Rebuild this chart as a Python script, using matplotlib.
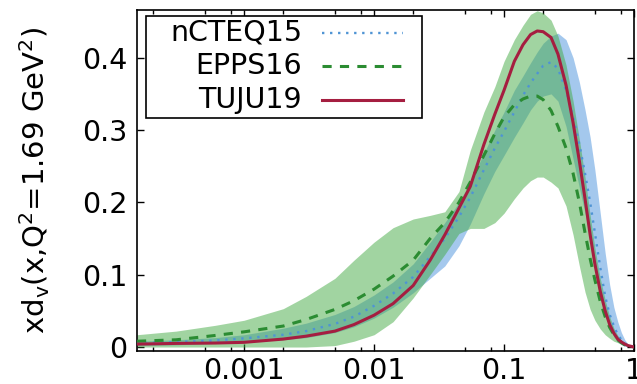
import numpy as np
import matplotlib
matplotlib.use("Agg")
import matplotlib.pyplot as plt
from matplotlib.ticker import FixedLocator, FixedFormatter, LogLocator, NullFormatter
from matplotlib.patches import Rectangle
from matplotlib.lines import Line2D

# ---------------- data ----------------
x = [1.5e-4, 3e-4, 6e-4, 1e-3, 2e-3, 3e-3, 5e-3, 7e-3, 0.01, 0.014, 0.02, 0.027,
     0.035, 0.045, 0.055, 0.07, 0.085, 0.1, 0.12, 0.14, 0.16, 0.18, 0.2, 0.23,
     0.26, 0.3, 0.34, 0.38, 0.42, 0.46, 0.5, 0.55, 0.6, 0.65, 0.7, 0.75, 0.8,
     0.85, 0.9, 1.0]

tuju19 = [0.004, 0.005, 0.0055, 0.0065, 0.011, 0.015, 0.022, 0.031, 0.044, 0.06,
          0.085, 0.12, 0.155, 0.192, 0.222, 0.28, 0.322, 0.355, 0.395, 0.418,
          0.432, 0.437, 0.436, 0.428, 0.405, 0.362, 0.31, 0.257, 0.205, 0.155,
          0.115, 0.077, 0.05, 0.031, 0.019, 0.011, 0.007, 0.004, 0.002, 0.0]

epps16 = [0.008, 0.010, 0.016, 0.021, 0.029, 0.038, 0.052, 0.064, 0.08, 0.098,
          0.12, 0.15, 0.172, 0.2, 0.228, 0.265, 0.295, 0.318, 0.335, 0.343,
          0.347, 0.347, 0.342, 0.327, 0.305, 0.275, 0.24, 0.2, 0.158, 0.122,
          0.093, 0.063, 0.042, 0.027, 0.017, 0.010, 0.006, 0.003, 0.001, 0.0]

ncteq15 = [0.005, 0.007, 0.009, 0.012, 0.017, 0.022, 0.032, 0.042, 0.057, 0.074,
           0.097, 0.125, 0.15, 0.18, 0.207, 0.245, 0.275, 0.298, 0.325, 0.348,
           0.365, 0.378, 0.389, 0.394, 0.385, 0.355, 0.318, 0.28, 0.24, 0.2,
           0.158, 0.11, 0.07, 0.045, 0.029, 0.017, 0.01, 0.005, 0.002, 0.0]

ncteq15_up = [0.008, 0.010, 0.013, 0.017, 0.026, 0.033, 0.045, 0.056, 0.072, 0.09,
              0.115, 0.145, 0.172, 0.2, 0.228, 0.268, 0.3, 0.325, 0.355, 0.375,
              0.393, 0.408, 0.42, 0.43, 0.434, 0.425, 0.4, 0.366, 0.328, 0.29,
              0.245, 0.185, 0.13, 0.086, 0.055, 0.035, 0.02, 0.01, 0.004, 0.0]
ncteq15_lo = [0.002, 0.003, 0.005, 0.007, 0.010, 0.013, 0.02, 0.028, 0.04, 0.055,
              0.075, 0.095, 0.112, 0.14, 0.17, 0.212, 0.243, 0.265, 0.29, 0.31,
              0.328, 0.34, 0.347, 0.35, 0.34, 0.305, 0.26, 0.22, 0.185, 0.15,
              0.11, 0.075, 0.045, 0.026, 0.014, 0.007, 0.003, 0.001, 0.0, 0.0]

epps16_up = [0.017, 0.022, 0.03, 0.037, 0.053, 0.07, 0.095, 0.12, 0.145, 0.165,
             0.177, 0.182, 0.187, 0.215, 0.272, 0.325, 0.36, 0.395, 0.425, 0.445,
             0.46, 0.465, 0.462, 0.452, 0.43, 0.39, 0.34, 0.287, 0.235, 0.182,
             0.137, 0.095, 0.065, 0.042, 0.026, 0.016, 0.009, 0.005, 0.002, 0.0]
epps16_lo = [0.0, 0.0, 0.0, 0.0, 0.0, 0.0, 0.002, 0.008, 0.017, 0.035,
             0.068, 0.1, 0.128, 0.157, 0.164, 0.164, 0.172, 0.185, 0.205, 0.22,
             0.23, 0.235, 0.235, 0.228, 0.22, 0.195, 0.155, 0.112, 0.076, 0.052,
             0.037, 0.025, 0.017, 0.012, 0.008, 0.006, 0.004, 0.002, 0.001, 0.0]

labels = ["nCTEQ15", "EPPS16", "TUJU19"]
xticks = [0.001, 0.01, 0.1, 1]
xticklabels = ["0.001", "0.01", "0.1", "1"]
yticks = [0, 0.1, 0.2, 0.3, 0.4]
yticklabels = ["0", "0.1", "0.2", "0.3", "0.4"]
ylabel = r"xd$_{\rm v}$(x,Q$^2$=1.69 GeV$^2$)"

# ---------------- styles ----------------
c_blue_band = "#4b92dd"
c_green_band = "#44aa44"
c_blue = "#4f94d4"
c_green = "#2b8c32"
c_red = "#a51e40"
FS = 20.5

plt.rcParams["font.family"] = ["DejaVu Sans"]
plt.rcParams["mathtext.fontset"] = "dejavusans"

fig = plt.figure(figsize=(6.37, 3.84), dpi=100)
ax = fig.add_axes([137 / 637, 1 - 351 / 384, 497 / 637, 341 / 384])

ax.fill_between(x, ncteq15_lo, ncteq15_up, color=c_blue_band, alpha=0.5, lw=0, zorder=1)
ax.fill_between(x, epps16_lo, epps16_up, color=c_green_band, alpha=0.5, lw=0, zorder=2)

ax.plot(x, ncteq15, color=c_blue, lw=1.7, ls=(0, (1, 2.4)), zorder=3)
ax.plot(x, epps16, color=c_green, lw=2.2, ls=(0, (3, 2.7)), zorder=4)
ax.plot(x, tuju19, color=c_red, lw=2.2, ls="-", zorder=5)

ax.set_xscale("log")
ax.set_xlim(1.5e-4, 1.0)
ax.set_ylim(-0.0055, 0.466)

ax.xaxis.set_major_locator(FixedLocator(xticks))
ax.xaxis.set_major_formatter(FixedFormatter(xticklabels))
ax.xaxis.set_minor_locator(LogLocator(base=10, subs=(2, 5, 8)))
ax.xaxis.set_minor_formatter(NullFormatter())
ax.yaxis.set_major_locator(FixedLocator(yticks))
ax.yaxis.set_major_formatter(FixedFormatter(yticklabels))

ax.tick_params(which="both", direction="in", top=True, right=True, width=1.0, labelsize=FS)
ax.tick_params(which="major", length=5)
ax.tick_params(which="minor", length=3)
ax.tick_params(axis="x", which="major", pad=4)
ax.tick_params(axis="y", which="major", pad=7)
for s in ax.spines.values():
    s.set_linewidth(1.2)

ax.set_ylabel(ylabel, fontsize=21)
ax.yaxis.set_label_coords(-0.172, 0.5)

# legend box (gnuplot style: right-aligned labels, samples on the right)
ax.add_patch(Rectangle((0.0175, 0.684), 0.5555, 0.299, transform=ax.transAxes,
                       facecolor="white", edgecolor="black", lw=1.2, zorder=10))
styles = [dict(color=c_blue, lw=1.7, ls=(0, (1, 2.4))),
          dict(color=c_green, lw=2.2, ls=(0, (3, 2.7))),
          dict(color=c_red, lw=2.2, ls="-")]
rows = [0.933, 0.835, 0.737]
for lab, st, yy in zip(labels, styles, rows):
    ax.text(0.332, yy, lab, transform=ax.transAxes, ha="right", va="center",
            fontsize=FS, zorder=11)
    ax.add_line(Line2D([0.372, 0.535], [yy, yy], transform=ax.transAxes, zorder=11, **st))

fig.savefig("out.png", dpi=100)
